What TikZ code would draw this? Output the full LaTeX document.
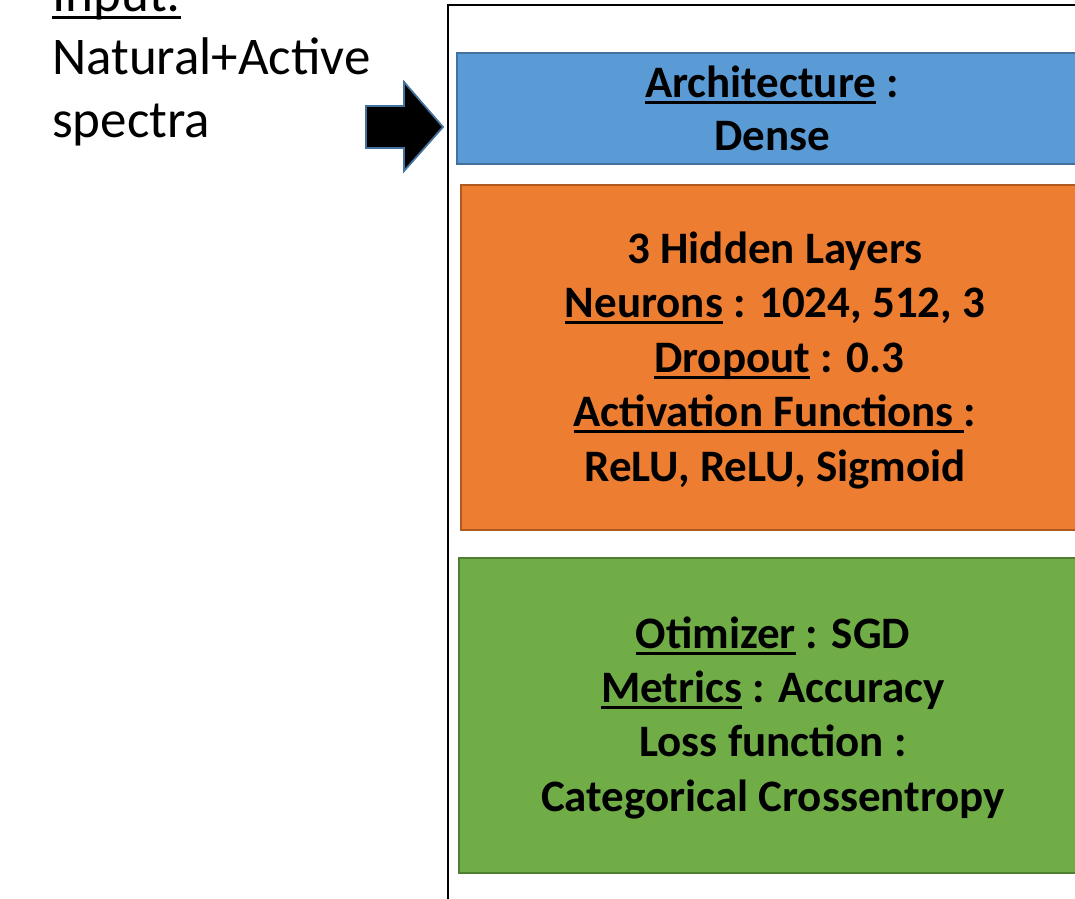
\documentclass[tikz,border=0pt]{standalone}
\usepackage{fontspec}
\setmainfont{Carlito}
\definecolor{bluefill}{HTML}{5B9BD5}
\definecolor{blueedge}{HTML}{41719C}
\definecolor{orangefill}{HTML}{ED7D31}
\definecolor{orangeedge}{HTML}{AE5A21}
\definecolor{greenfill}{HTML}{70AD47}
\definecolor{greenedge}{HTML}{507E32}
\newcommand\myul[1]{\setbox0\hbox{#1}\rlap{\rule[-7pt]{\wd0}{2.8pt}}\box0\relax}
\newcommand\myulthin[1]{\setbox0\hbox{#1}\rlap{\rule[-8pt]{\wd0}{3pt}}\box0\relax}
\tikzset{
  panel/.style={draw, line width=2pt, anchor=north west, inner sep=0pt},
  boxtext/.style={anchor=base, font=\fontsize{45}{54}\selectfont\bfseries, inner sep=0pt},
  intext/.style={anchor=base west, font=\fontsize{53}{63}\selectfont, inner sep=0pt},
}
\begin{document}
\begin{tikzpicture}[x=1pt,y=-1pt]
\useasboundingbox (0,0) rectangle (1075,898);
\clip (0,0) rectangle (1075,898);
% outer frame
\node[draw=black, line width=2pt, minimum width=700pt, minimum height=950pt, anchor=north west, inner sep=0pt] (frame) at (447,4) {};
% coloured panels
\node[panel, fill=bluefill, draw=blueedge, minimum width=640pt, minimum height=111pt] (arch) at (456,52) {};
\node[panel, fill=orangefill, draw=orangeedge, minimum width=640pt, minimum height=345pt] (hidden) at (460,184) {};
\node[panel, fill=greenfill, draw=greenedge, minimum width=640pt, minimum height=315pt] (train) at (458,557) {};
% block arrow
\node[coordinate] (arrowtip) at (443,127) {};
\draw[fill=black, draw=blueedge, line width=1.8pt, line join=miter]
  (366,106) -- (404,106) -- (404,82) -- (arrowtip) -- (404,171) -- (404,148) -- (366,148) -- cycle;
% input text
\node[intext] (in1) at (52,11) {\myulthin{Input:}};
\node[intext] (in2) at (52,74) {Natural+Active};
\node[intext] (in3) at (52,137) {spectra};
% blue box text
\node[boxtext] (a1) at (772,97) {\myul{Architecture} :};
\node[boxtext] (a2) at (772,150) {Dense};
% orange box text
\node[boxtext] (h1) at (775,263) {3 Hidden Layers};
\node[boxtext] (h2) at (775,317) {\myul{Neurons} : 1024, 512, 3};
\node[boxtext] (h3) at (779,372) {\myul{Dropout} : 0.3};
\node[boxtext] (h4) at (775,426) {\myul{Activation Functions }:};
\node[boxtext] (h5) at (775,481) {ReLU, ReLU, Sigmoid};
% green box text
\node[boxtext] (g1) at (773,648) {\myul{Otimizer} : SGD};
\node[boxtext] (g2) at (773,702) {\myul{Metrics} : Accuracy};
\node[boxtext] (g3) at (773,756) {Loss function :};
\node[boxtext] (g4) at (773,811) {Categorical Crossentropy};
\end{tikzpicture}
\end{document}
